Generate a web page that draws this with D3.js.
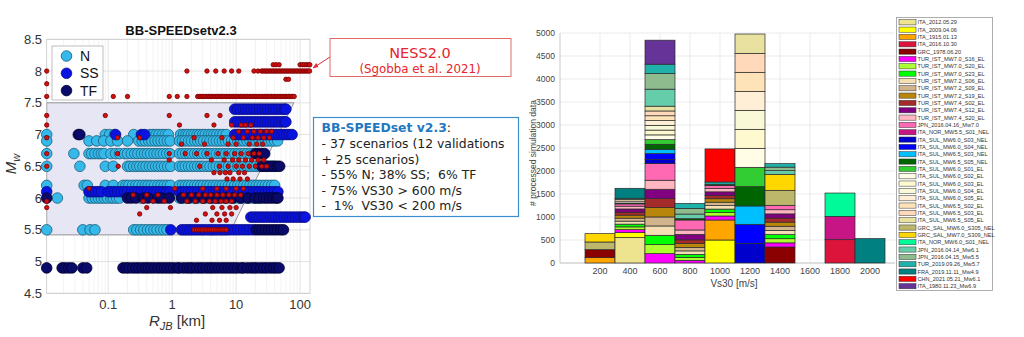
<!DOCTYPE html>
<html><head><meta charset="utf-8">
<script src="https://cdn.jsdelivr.net/npm/d3@7"></script>
<style>body{margin:0;background:#fff}svg{display:block}</style>
</head><body>
<svg id="fig" width="1024" height="337"></svg>
<script>
// ---------- Left panel: magnitude vs Joyner-Boore distance ----------
const mwTicks = [4.5, 5, 5.5, 6, 6.5, 7, 7.5, 8, 8.5];
const rTicks = [0.1, 1, 10, 100];

// Normal-fault records: [Mw, [R_JB values in km]]
const pointsN = [
  [7.0, [0.0109, 0.09, 0.105, 0.125, 0.25, 0.45, 0.5, 0.56, 0.62, 0.7, 0.78, 0.87, 1.35, 1.5, 1.65, 1.8, 2.0, 2.2, 2.45, 2.7, 3.0, 3.3, 3.7, 4.1, 4.5, 5.0, 5.6, 6.2, 7.0]],
  [6.9, [0.0109, 0.05, 0.066, 0.085, 0.11, 0.14, 0.2, 0.3, 0.34, 0.38, 0.43, 0.48, 0.54, 0.6, 0.67, 0.75, 0.84, 0.93, 1.3, 1.45, 1.6, 1.8, 2.0, 2.25, 2.5, 2.8, 3.1, 3.5, 3.9, 4.4, 4.9, 5.5, 6.1, 6.8, 7.6, 8.5, 9.5, 10.6, 11.8, 13.2, 14.8, 16.5, 18.5, 20.6, 23, 25.7, 28.7, 32, 35.8, 40, 44.6]],
  [6.7, [0.0109, 0.029, 0.05, 0.055, 0.062, 0.07, 0.078, 0.086, 0.11, 0.13, 0.15, 0.18, 0.2, 0.23, 0.26, 0.29, 0.33, 0.37, 0.41, 0.46, 0.52, 0.58, 0.65, 0.73, 0.82, 0.92, 1.3, 1.45, 1.62, 1.8, 2.0, 2.25, 2.5, 2.8, 3.1, 3.5, 3.9, 4.4, 4.9, 5.5, 6.1, 6.8, 7.6, 8.5, 9.5, 10.6, 11.8, 13.2, 14.8, 16.5, 18.5]],
  [6.5, [0.0109, 0.036, 0.09, 0.12, 0.2, 0.22, 0.25, 0.28, 0.31, 0.35, 0.39, 0.44, 0.49, 0.55, 0.61, 0.68, 0.76, 0.85, 0.95, 1.3, 1.45, 1.6, 1.8, 2.0, 2.25, 2.5, 2.8, 3.1, 3.5, 3.9, 4.4, 4.9, 5.5, 6.1, 6.8, 7.6, 8.5, 9.5, 10.6, 11.8, 13.2, 14.8, 16.5, 18.5, 20.6, 23, 25.7, 28.7, 32, 36, 40]],
  [6.2, [0.0109, 0.042, 0.047, 0.09, 0.12, 0.17, 0.19, 0.21, 0.24, 0.27, 0.3, 0.34, 0.38, 0.42, 0.47, 0.53, 0.6, 0.67, 0.75, 0.84, 0.94, 1.3, 1.45, 1.62, 1.8, 2.0, 2.25, 2.5, 2.8, 3.1, 3.5, 3.9, 4.4, 4.9, 5.5, 6.1, 6.8, 7.6, 8.5, 9.5, 10.6, 11.8, 13.2, 14.8, 16.5, 18.5, 20.6, 23, 25.7, 28.7, 32, 36, 40]],
  [6.0, [0.016, 0.05, 0.056, 0.063, 0.07, 0.078, 0.087, 0.097, 0.11, 0.12, 0.135, 0.15, 0.32, 0.52, 0.8, 1.3, 1.5, 1.7, 1.9, 2.2, 2.5, 2.9, 3.3, 3.8, 4.3, 4.9, 5.6, 6.4, 7.3, 8.3, 9.5, 11, 12.5, 14.3, 16.3, 18.6, 21.2, 24.2]],
  [5.5, [0.0109, 0.04, 0.052, 0.062, 0.25, 0.28, 0.32, 0.36, 0.41, 0.46, 0.52, 0.58, 0.66, 0.74, 0.83]]
];

// Strike-slip records
const pointsSS = [
  [7.4, [9.5, 10.5, 11.6, 12.8, 14.1, 15.6, 17.2, 19, 21, 23.2, 25.6, 28.3, 31.2, 34.5, 38.1, 42, 46.4, 51.2, 56.5, 60]],
  [7.2, [9.5, 10.5, 11.6, 12.8, 14.1, 15.6, 17.2, 19, 21, 23.2, 25.6, 28.3, 31.2, 34.5, 38.1, 42, 46.4, 51.2, 56.5, 60]],
  [7.0, [0.13, 0.33, 0.37, 9.5, 10.5, 11.6, 12.8, 14.1, 15.6, 17.2, 19, 21, 23.2, 25.6, 28.3, 31.2, 34.5, 38.1, 42, 46.4, 51.2, 56.5, 62, 68, 75]],
  [6.1, [0.0109, 0.05, 0.056, 0.063, 0.07, 0.078, 0.1, 0.11, 0.125, 0.14, 0.16, 0.18, 0.2, 0.23, 0.26, 0.29, 0.33, 0.37, 0.41, 0.46, 0.52, 0.58, 0.65, 0.73, 0.82, 0.92, 1.3, 1.45, 1.62, 1.8, 2.0, 2.25, 2.5, 2.8, 3.1, 3.5, 3.9, 4.4, 4.9, 5.5, 6.1, 6.8, 7.6, 8.5, 9.5, 10.6, 11.8, 13.2, 14.8, 16.5, 18.5, 20.6, 23, 25.7, 28.7, 32, 36, 40, 45]],
  [5.7, [17, 18.8, 20.8, 23, 25.4, 28, 31, 34.3, 37.9, 41.9, 46.3, 51.2, 56.6, 62.6, 69.2, 76.5, 84.6, 93.5, 103, 113, 120]],
  [5.5, [0.95, 1.4, 1.55, 1.72, 1.9, 2.1, 2.35, 2.6, 2.9, 3.2, 3.6, 4.0, 4.4, 4.9, 5.5, 6.1, 6.8, 7.6, 8.5, 9.5, 10.6, 11.8, 13.2, 14.8, 16.5, 18.5]]
];

// Thrust-fault records
const pointsTF = [
  [7.0, [0.034, 0.036]],
  [6.7, [20, 22.5, 25, 28]],
  [6.5, [25, 28, 31, 35, 39, 44, 48]],
  [6.0, [0.0109, 0.2, 0.23, 0.27, 0.36, 0.42, 0.6, 0.68, 0.9, 1.4, 1.8, 2.35, 3.1, 4.1, 5.2, 6.9, 8.9, 11.8, 15.3, 19.8, 23, 27, 30, 33.5, 37.5, 42, 45]],
  [5.5, [20.6, 23, 25.7, 28.7, 32, 35.8, 40, 44.6, 50, 55]],
  [4.9, [0.0109, 0.019, 0.021, 0.024, 0.027, 0.04, 0.046, 0.17, 0.19, 0.21, 0.24, 0.27, 0.3, 0.34, 0.38, 0.42, 0.47, 0.53, 0.6, 0.67, 0.75, 0.84, 0.94, 1.05, 1.2, 1.3, 1.5, 1.7, 1.9, 2.1, 2.4, 2.7, 3, 3.4, 3.8, 4.2, 4.7, 5.3, 6, 6.7, 7.5, 8.4, 9.4, 10.5, 12, 13, 15, 17, 19, 21, 24, 27, 30, 34, 38, 42, 47]]
];

// NESS2.0 records: [Mw, [R_JB values in km]]
const pointsNESS = [
  [8.1, [38, 42, 47, 100, 108, 116, 125, 134, 142]],
  [8.0, [0.0109, 1.7, 3.5, 4.8, 6.5, 8.5, 11, 19, 22, 25, 26.4, 27.9, 29.4, 31, 32.8, 34.6, 36.5, 38.5, 40.7, 42.9, 45.3, 47.8, 50.5, 53.3, 56.2, 59.4, 62.7, 66.1, 69.8, 73.7, 77.8, 82.1, 86.7, 91.5, 96.6, 102, 107.6, 113.6, 119.9, 126.6, 133.6, 141]],
  [7.87, [60, 66]],
  [7.8, [0.0109]],
  [7.6, [0.0109, 0.12, 0.2, 0.9, 1.2, 1.7, 2.5, 2.65, 2.8, 2.95, 3.1, 3.3, 3.5, 3.7, 3.9, 4.1, 4.35, 4.6, 4.85, 5.1, 5.4, 5.7, 6.0, 6.35, 6.7, 7.1, 7.5, 7.9, 8.35, 8.8, 9.3, 9.8, 10.4, 11, 11.6, 12.2, 12.9, 13.6, 14.4, 15.2, 16, 16.9, 17.9, 18.9, 19.9, 21, 22.2, 23.4, 24.7, 26.1, 27.6, 29.1, 30.7, 32.4, 34.2, 36.1, 38.1, 40.2, 42.5, 44.8, 47.3, 50, 52.7, 55.6, 58.7, 62, 65.4, 69, 72.9, 77, 81]],
  [7.3, [0.0109, 0.09, 0.9, 3.5, 5.6]],
  [7.15, [0.0109, 1.3, 4.5, 8.5, 12, 14, 17]],
  [7.05, [11, 15, 19, 24, 30, 36]],
  [6.95, [0.0109, 0.14, 0.31, 2.2, 6, 9, 13, 18, 22, 27, 33]],
  [6.85, [1.4, 3.2, 7.5, 10, 16, 21, 26]],
  [6.7, [0.0109, 0.14, 0.9, 1.6, 2.4, 3.5, 5.2, 7, 9.5, 12, 15.5, 19, 23]],
  [6.6, [0.9, 4.1, 6.5, 8.8, 11, 14, 17.5, 22, 27]],
  [6.5, [0.0109, 0.143, 2.7, 5.5, 7.5, 10, 12.5, 16, 20, 25, 30]],
  [6.4, [4.5, 5.6, 6.8, 8, 11, 13.5]],
  [6.3, [7.2, 9, 11.5, 15]],
  [6.15, [0.05, 1.1, 3, 5, 7, 10, 13]],
  [6.05, [0.245, 0.4, 0.6, 1.5, 2, 2.6, 3.3, 4, 5, 6.2, 7.7, 9.5, 11.8]],
  [5.95, [0.0109, 0.35, 0.5, 0.75, 1.7, 2.3, 3, 3.8, 4.7, 5.8, 7, 8.5]],
  [5.85, [0.0109, 0.4, 0.94, 4.3, 6, 8, 10]],
  [5.75, [0.31, 3.3, 5, 6.6, 8.5]],
  [5.65, [2.4, 4.2, 5.5, 7]],
  [5.5, [2.2, 2.4, 2.6, 2.8, 3.0, 3.25, 3.5, 3.8, 4.1, 4.4, 4.8, 5.2, 5.6, 6.0, 6.5, 7.0]]
];

// ---------- Right panel: stacked histogram of Vs30 ----------
const vsBins = [200, 400, 600, 800, 1000, 1200, 1400, 1600, 1800, 2000];
const countTicks = [0, 500, 1000, 1500, 2000, 2500, 3000, 3500, 4000, 4500, 5000];

const scenarioNames = [
  "ITA_2012.05.29", "ITA_2009.04.06", "ITA_1915.01.13", "ITA_2016.10.30", "GRC_1978.06.20",
  "TUR_IST_MW7.0_S16_EL", "TUR_IST_MW7.0_S20_EL", "TUR_IST_MW7.0_S23_EL", "TUR_IST_MW7.2_S06_EL",
  "TUR_IST_MW7.2_S09_EL", "TUR_IST_MW7.2_S19_EL", "TUR_IST_MW7.4_S02_EL", "TUR_IST_MW7.4_S12_EL",
  "TUR_IST_MW7.4_S20_EL", "JPN_2016.04.16_Mw7.0", "ITA_NOR_MW5.5_S01_NEL", "ITA_SUL_MW6.0_S03_NEL",
  "ITA_SUL_MW6.0_S04_NEL", "ITA_SUL_MW6.5_S03_NEL", "ITA_SUL_MW6.5_S05_NEL", "ITA_SUL_MW6.0_S01_EL",
  "ITA_SUL_MW6.0_S02_EL", "ITA_SUL_MW6.0_S03_EL", "ITA_SUL_MW6.0_S04_EL", "ITA_SUL_MW6.0_S05_EL",
  "ITA_SUL_MW6.5_S02_EL", "ITA_SUL_MW6.5_S03_EL", "ITA_SUL_MW6.5_S05_EL", "GRC_SAL_MW6.0_S305_NEL",
  "GRC_SAL_MW7.0_S309_NEL", "ITA_NOR_MW6.0_S01_NEL", "JPN_2016.04.14_Mw6.1", "JPN_2016.04.15_Mw5.5",
  "TUR_2019.09.26_Mw5.7", "FRA_2019.11.11_Mw4.9", "CHN_2021.05.21_Mw6.1", "ITA_1980.11.23_Mw6.9"
];
const scenarioColors = [
  "#eee38f", "#ffff00", "#ffa500", "#dc143c", "#8b0000",
  "#ff00ff", "#adff2f", "#00ff00", "#f5deb3",
  "#d2b48c", "#b8860b", "#a52a2a", "#800080",
  "#ffb6c1", "#ff69b4", "#c71585", "#0000cd",
  "#0000ff", "#00bfff", "#006400", "#32cd32",
  "#fffde6", "#fff9d0", "#f9f9d8", "#ffefd6",
  "#ffe3b8", "#ffd9ba", "#e8e1a0", "#bdb76b",
  "#ffd700", "#00fa9a", "#66cdaa", "#8fbc8f",
  "#20b2aa", "#008080", "#ff0000", "#663399"
];

// per-bin stacks: [scenario number (1-based), records]
const bin200 = [[3, 116], [5, 174], [29, 167], [30, 181]];
const bin400 = [[1, 551], [2, 109], [6, 65], [7, 60], [8, 60], [9, 65], [10, 65], [11, 65], [12, 65], [13, 70], [14, 60], [15, 50], [20, 20], [22, 40], [26, 40], [32, 22], [35, 217]];
const bin600 = [[6, 203], [7, 196], [8, 203], [9, 203], [10, 196], [11, 203], [12, 196], [13, 203], [14, 196], [15, 362], [17, 94], [18, 123], [19, 94], [20, 109], [21, 100], [22, 104], [23, 104], [24, 104], [25, 104], [26, 104], [27, 104], [28, 104], [32, 370], [33, 340], [34, 203], [37, 522]];
const bin800 = [[6, 58], [7, 65], [8, 65], [9, 75], [10, 75], [11, 90], [12, 75], [13, 120], [14, 95], [15, 217], [20, 29], [32, 100], [33, 123], [34, 109]];
const bin1000 = [[2, 500], [3, 435], [6, 87], [7, 75], [8, 75], [9, 75], [10, 75], [11, 75], [12, 75], [13, 75], [14, 75], [15, 60], [20, 30], [34, 50], [36, 718]];
const bin1200 = [[17, 428], [18, 413], [19, 399], [20, 420], [21, 420], [22, 413], [23, 413], [24, 413], [25, 413], [26, 413], [27, 413], [28, 420]];
const bin1400 = [[5, 348], [6, 90], [7, 90], [8, 90], [9, 90], [10, 90], [11, 90], [12, 90], [13, 90], [14, 90], [15, 96], [29, 326], [30, 348], [32, 80], [33, 76], [34, 76]];
const bin1600 = [];
const bin1800 = [[4, 507], [16, 507], [31, 507]];
const bin2000 = [[35, 530]];
const binStacks = [bin200, bin400, bin600, bin800, bin1000, bin1200, bin1400, bin1600, bin1800, bin2000];

const svg = d3.select("#fig");
const FONT = "'Liberation Sans', Arial, sans-serif";
const VFONT = "'DejaVu Sans', Verdana, sans-serif";

// ================= left panel =================
const xL = d3.scaleLog().domain([0.0109, 143]).range([46.7, 310]);
const yL = d3.scaleLinear().domain([4.5, 8.5]).range([293.3, 39.3]);
const L = svg.append("g");

// grid
const minorR = [];
for (let e = -2; e <= 2; e++) for (let k = 2; k <= 9; k++) {
  const v = k * Math.pow(10, e);
  if (v > 0.0109 && v < 143) minorR.push(v);
}
L.selectAll(".gminor").data(minorR).join("line")
  .attr("x1", d => xL(d)).attr("x2", d => xL(d)).attr("y1", yL(4.5)).attr("y2", yL(8.5))
  .attr("stroke", "#f0f0f0").attr("stroke-width", 0.8);
L.selectAll(".gx").data(rTicks).join("line")
  .attr("x1", d => xL(d)).attr("x2", d => xL(d)).attr("y1", yL(4.5)).attr("y2", yL(8.5))
  .attr("stroke", "#dcdcdc").attr("stroke-width", 0.8);
L.selectAll(".gy").data(mwTicks).join("line")
  .attr("x1", xL.range()[0]).attr("x2", xL.range()[1]).attr("y1", d => yL(d)).attr("y2", d => yL(d))
  .attr("stroke", "#dcdcdc").attr("stroke-width", 0.8);

// BB-SPEEDset coverage region
const region = [[0.0109, 7.5], [80, 7.5], [7.6, 5.42], [0.0109, 5.42]];
L.append("path")
  .attr("d", d3.line().x(d => xL(d[0])).y(d => yL(d[1]))(region) + "Z")
  .attr("fill", "#e6e6f5").attr("stroke", "#8a8a8a").attr("stroke-width", 0.9);

// axes box
L.append("rect").attr("x", xL.range()[0]).attr("y", yL.range()[1])
  .attr("width", xL.range()[1] - xL.range()[0]).attr("height", yL.range()[0] - yL.range()[1])
  .attr("fill", "none").attr("stroke", "#c8c8c8").attr("stroke-width", 0.8);

// scatter
function drawRows(rows, fill, stroke, r) {
  const pts = [];
  rows.forEach(([m, rs]) => rs.forEach(v => pts.push([v, m])));
  L.append("g").selectAll("circle").data(pts).join("circle")
    .attr("cx", d => xL(d[0])).attr("cy", d => yL(d[1])).attr("r", r)
    .attr("fill", fill).attr("stroke", stroke).attr("stroke-width", 0.8);
}
drawRows(pointsN, "#35b8ea", "#1b5e7a", 5.3);
drawRows(pointsSS, "#0a14e0", "#0a0a80", 5.3);
drawRows(pointsTF, "#0a0a6a", "#000030", 5.3);
drawRows(pointsNESS, "#d01010", "#7a0000", 2.2);

// tick labels
L.selectAll(".ty").data(mwTicks).join("text")
  .attr("x", 42).attr("y", d => yL(d) + 4.6).attr("text-anchor", "end")
  .attr("font-family", FONT).attr("font-size", 13).attr("fill", "#333")
  .text(d => d);
L.selectAll(".tx").data(rTicks).join("text")
  .attr("x", d => xL(d)).attr("y", 309).attr("text-anchor", "middle")
  .attr("font-family", FONT).attr("font-size", 13).attr("fill", "#333")
  .text(d => d);

// title and axis labels
L.append("text").attr("x", 181).attr("y", 35).attr("text-anchor", "middle")
  .attr("font-family", FONT).attr("font-weight", "bold").attr("font-size", 13).attr("fill", "#111")
  .text("BB-SPEEDsetv2.3");
const xlab = L.append("text").attr("x", 177).attr("y", 326).attr("text-anchor", "middle")
  .attr("font-family", FONT).attr("font-size", 15).attr("fill", "#333");
xlab.append("tspan").attr("font-style", "italic").text("R");
xlab.append("tspan").attr("font-size", 11).attr("dy", 4).attr("font-style", "italic").text("JB");
xlab.append("tspan").attr("dy", -4).text(" [km]");
const ylab = L.append("text").attr("transform", "translate(16,164) rotate(-90)").attr("text-anchor", "middle")
  .attr("font-family", FONT).attr("font-size", 15).attr("fill", "#333");
ylab.append("tspan").attr("font-style", "italic").text("M");
ylab.append("tspan").attr("font-size", 11).attr("dy", 4).attr("font-style", "italic").text("w");

// legend
const lg = L.append("g");
lg.append("rect").attr("x", 52).attr("y", 46).attr("width", 51).attr("height", 54)
  .attr("fill", "#fff").attr("stroke", "#b0b0b0").attr("stroke-width", 0.8);
const lgItems = [["N", "#35b8ea", "#1b5e7a"], ["SS", "#0a14e0", "#0a0a80"], ["TF", "#0a0a6a", "#000030"]];
lgItems.forEach(([t, f, s], i) => {
  const cy = 56 + i * 17.3;
  lg.append("circle").attr("cx", 66.5).attr("cy", cy).attr("r", 5.3).attr("fill", f).attr("stroke", s).attr("stroke-width", 0.8);
  lg.append("text").attr("x", 80).attr("y", cy + 5).attr("font-family", FONT).attr("font-size", 14).attr("fill", "#111").text(t);
});

// ================= annotations =================
const A = svg.append("g");
A.append("rect").attr("x", 330).attr("y", 38.5).attr("width", 181).attr("height", 38)
  .attr("fill", "#fff").attr("stroke", "#e06a6a").attr("stroke-width", 1);
A.append("text").attr("x", 420).attr("y", 58).attr("text-anchor", "middle")
  .attr("font-family", VFONT).attr("font-size", 14.5).attr("fill", "#e8242c")
  .text("NESS2.0");
A.append("text").attr("x", 420).attr("y", 72.5).attr("text-anchor", "middle")
  .attr("font-family", VFONT).attr("font-size", 11.8).attr("fill", "#e8242c")
  .text("(Sgobba et al. 2021)");
svg.append("defs").append("marker").attr("id", "ah").attr("viewBox", "0 0 10 10")
  .attr("refX", 9).attr("refY", 5).attr("markerWidth", 6).attr("markerHeight", 6).attr("orient", "auto")
  .append("path").attr("d", "M0,1 L10,5 L0,9 Z").attr("fill", "#e0303a");
A.append("line").attr("x1", 330).attr("y1", 57).attr("x2", 313).attr("y2", 68)
  .attr("stroke", "#e0303a").attr("stroke-width", 1).attr("marker-end", "url(#ah)");

A.append("rect").attr("x", 313.5).attr("y", 117.5).attr("width", 205).attr("height", 99)
  .attr("fill", "#fff").attr("stroke", "#3a8fd0").attr("stroke-width", 1.2);
const infoLines = [
  "- 37 scenarios (12 validations",
  "+ 25 scenarios)",
  "- 55% N; 38% SS;  6% TF",
  "- 75% VS30 > 600 m/s",
  "-  1%  VS30 < 200 m/s"
];
const head = A.append("text").attr("x", 321.5).attr("y", 132)
  .attr("font-family", VFONT).attr("font-size", 12.4);
head.append("tspan").attr("font-weight", "bold").attr("fill", "#1f78c1").text("BB-SPEEDset v2.3");
head.append("tspan").attr("fill", "#222").text(":");
A.selectAll(".info").data(infoLines).join("text")
  .attr("x", 321.5).attr("y", (d, i) => 148.3 + i * 15.5)
  .attr("font-family", VFONT).attr("font-size", 12.4).attr("fill", "#222")
  .style("white-space", "pre")
  .text(d => d);

// ================= right panel =================
const xR = d3.scaleLinear().domain([-66.7, 2166.7]).range([560, 895]);
const yR = d3.scaleLinear().domain([0, 5000]).range([263, 33]);
const R = svg.append("g");

R.selectAll(".rgy").data(countTicks).join("line")
  .attr("x1", xR.range()[0]).attr("x2", xR.range()[1]).attr("y1", d => yR(d)).attr("y2", d => yR(d))
  .attr("stroke", "#e6e6e6").attr("stroke-width", 0.8);
R.selectAll(".rgx").data(vsBins).join("line")
  .attr("x1", d => xR(d)).attr("x2", d => xR(d)).attr("y1", yR(0)).attr("y2", yR(5000))
  .attr("stroke", "#e6e6e6").attr("stroke-width", 0.8);
R.append("line").attr("x1", xR.range()[0]).attr("x2", xR.range()[0]).attr("y1", yR(0)).attr("y2", yR(5000))
  .attr("stroke", "#bbb").attr("stroke-width", 0.8);
R.append("line").attr("x1", xR.range()[0]).attr("x2", xR.range()[1]).attr("y1", yR(0)).attr("y2", yR(0))
  .attr("stroke", "#bbb").attr("stroke-width", 0.8);

const segs = [];
binStacks.forEach((stack, bi) => {
  let base = 0;
  stack.forEach(([sc, n]) => {
    segs.push({ v: vsBins[bi], y0: base, y1: base + n, c: scenarioColors[sc - 1] });
    base += n;
  });
});
R.append("g").selectAll("rect").data(segs).join("rect")
  .attr("x", d => xR(d.v - 100)).attr("width", d => xR(d.v + 100) - xR(d.v - 100))
  .attr("y", d => yR(d.y1)).attr("height", d => yR(d.y0) - yR(d.y1))
  .attr("fill", d => d.c).attr("stroke", "#2a2a2a").attr("stroke-width", 0.7);

R.selectAll(".rty").data(countTicks).join("text")
  .attr("x", 555).attr("y", d => yR(d) + 3).attr("text-anchor", "end")
  .attr("font-family", FONT).attr("font-size", 8.5).attr("fill", "#444").text(d => d);
R.selectAll(".rtx").data(vsBins).join("text")
  .attr("x", d => xR(d)).attr("y", 274).attr("text-anchor", "middle")
  .attr("font-family", FONT).attr("font-size", 9).attr("fill", "#444").text(d => d);
R.append("text").attr("x", 734).attr("y", 287).attr("text-anchor", "middle")
  .attr("font-family", FONT).attr("font-size", 10).attr("fill", "#444").text("Vs30 [m/s]");
R.append("text").attr("transform", "translate(536,153) rotate(-90)").attr("text-anchor", "middle")
  .attr("font-family", FONT).attr("font-size", 8.5).attr("fill", "#444").text("# processed simulation data");

// scenario legend
const LG = svg.append("g");
LG.append("rect").attr("x", 896.5).attr("y", 17.5).attr("width", 96).attr("height", 273)
  .attr("fill", "#fff").attr("stroke", "#999").attr("stroke-width", 0.8);
const lgRow = LG.selectAll(".lr").data(scenarioNames).join("g")
  .attr("transform", (d, i) => `translate(0,${22.3 + i * 7.33})`);
lgRow.append("rect").attr("x", 899).attr("y", -2.6).attr("width", 17).attr("height", 5.2)
  .attr("fill", (d, i) => scenarioColors[i]).attr("stroke", "#333").attr("stroke-width", 0.5);
lgRow.append("text").attr("x", 917.5).attr("y", 2)
  .attr("font-family", FONT).attr("font-size", 5.6).attr("fill", "#333").text(d => d);
</script>
</body></html>
